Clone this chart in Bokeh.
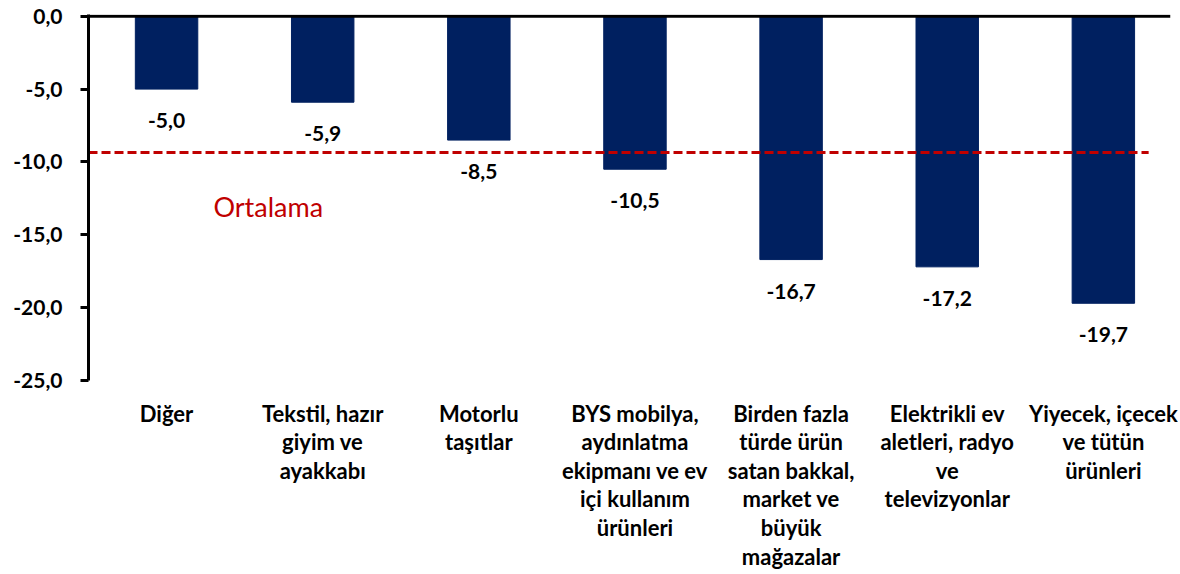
from bokeh.plotting import figure
from bokeh.models import Range1d, FixedTicker, Span, ColumnDataSource
from bokeh.core.properties import value
from bokeh.embed import file_html
from bokeh.resources import INLINE

categories = [
    "Diğer",
    "Tekstil, hazır\ngiyim ve\nayakkabı",
    "Motorlu\ntaşıtlar",
    "BYS mobilya,\naydınlatma\nekipmanı ve ev\niçi kullanım\nürünleri",
    "Birden fazla\ntürde ürün\nsatan bakkal,\nmarket ve\nbüyük\nmağazalar",
    "Elektrikli ev\naletleri, radyo\nve\ntelevizyonlar",
    "Yiyecek, içecek\nve tütün\nürünleri",
]
values = [-5.0, -5.9, -8.5, -10.5, -16.7, -17.2, -19.7]
average = -9.35
average_label = "Ortalama"
y_ticks = [0, -5, -10, -15, -20, -25]

FONT = "Lato"
NAVY = "#002060"
RED = "#C00000"

xs = [i + 0.5 for i in range(len(categories))]
labels = [f"{v:.1f}".replace(".", ",") for v in values]
src = ColumnDataSource(dict(x=xs, top=[0] * len(values), bottom=values, lab=labels))

p = figure(width=1178, height=572, output_backend="svg", toolbar_location=None,
           x_range=Range1d(0, 6.93), y_range=Range1d(-25, 0.12),
           min_border_left=88, min_border_right=8, min_border_top=14, min_border_bottom=192)
p.outline_line_color = None
p.xgrid.grid_line_color = None
p.ygrid.grid_line_color = None

p.vbar(x="x", top="top", bottom="bottom", width=0.4, source=src,
       fill_color=NAVY, line_color=NAVY)

p.text(x="x", y="bottom", text="lab", source=src, text_align="center",
       text_baseline="top", y_offset=24, text_font=value(FONT),
       text_font_style="bold", text_font_size="21px", text_color="black")

p.line(x=[0, 6.79], y=[average, average], line_color=RED, line_width=3,
       line_dash="9 4")
p.text(x=[0.8], y=[-13.05], text=[average_label], text_align="left",
       text_baseline="middle", text_font=value(FONT), text_font_size="27px",
       text_color=RED)

p.add_layout(Span(location=0, dimension="width", line_color="black", line_width=3))

# y axis
ya = p.yaxis[0]
ya.ticker = FixedTicker(ticks=y_ticks)
ya.major_label_overrides = {t: f"{t:.1f}".replace(".", ",") for t in y_ticks}
ya.axis_line_width = 3
ya.axis_line_color = "black"
ya.major_tick_line_width = 3
ya.major_tick_out = 8
ya.major_tick_in = 0
ya.minor_tick_line_color = None
ya.major_label_text_font = FONT
ya.major_label_text_font_style = "bold"
ya.major_label_text_font_size = "21px"
ya.major_label_text_color = "black"
ya.major_label_standoff = 18

# x axis
xa = p.xaxis[0]
xa.ticker = FixedTicker(ticks=xs)
xa.major_label_overrides = {x: c for x, c in zip(xs, categories)}
xa.axis_line_color = None
xa.major_tick_line_color = None
xa.minor_tick_line_color = None
xa.major_label_text_font = FONT
xa.major_label_text_font_style = "bold"
xa.major_label_text_font_size = "22px"
xa.major_label_text_color = "black"
xa.major_label_text_line_height = 1.06
xa.major_label_standoff = 13
xa.major_label_orientation = "horizontal"

open("out.html", "w").write(file_html(p, INLINE))
